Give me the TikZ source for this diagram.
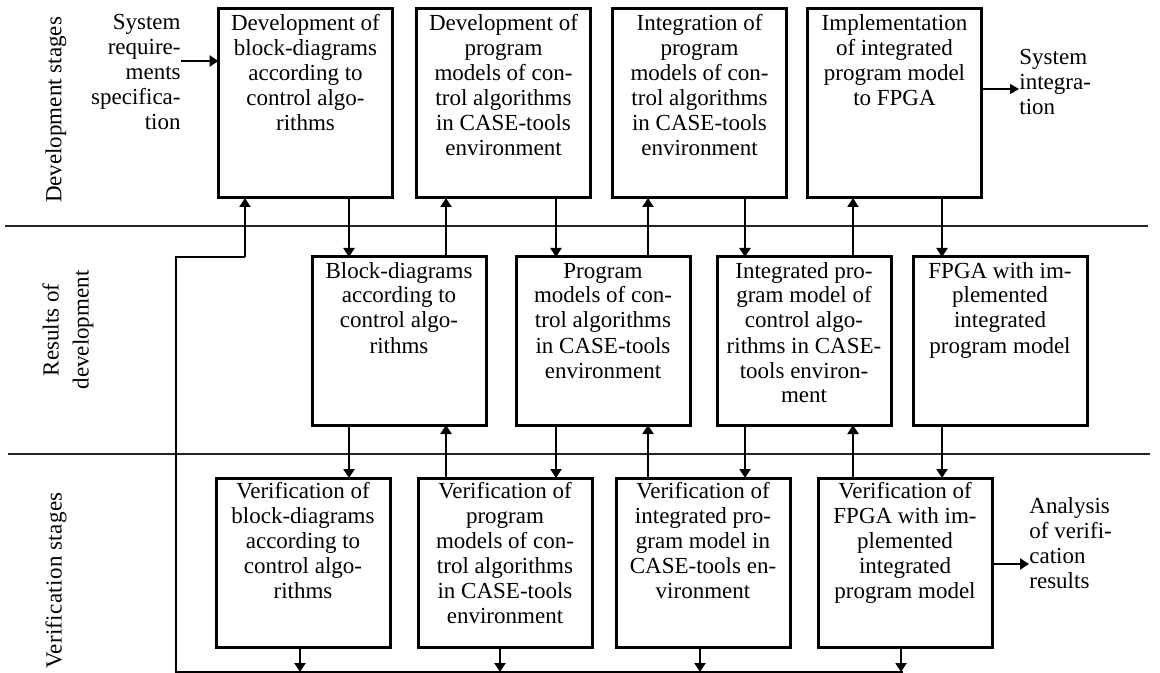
\documentclass[tikz,border=0pt]{standalone}
\usepackage{fontspec}
\setmainfont{Liberation Serif}
\usetikzlibrary{arrows.meta}

% text of a stage box: box height, height of the first line, lines
\newcommand{\stagetext}[3]{\parbox[c][#1][t]{87pt}{\centering\rule{0pt}{#2}\ignorespaces#3\par}}

\begin{document}
\begin{tikzpicture}[x=0.5pt,y=-0.5pt,
  every node/.style={font=\fontsize{11.5pt}{12.5pt}\selectfont},
  stagebox/.style={draw, line width=1.5pt, inner sep=0pt, outer sep=0pt},
  link/.style={line width=1.4pt, -{Triangle[width=5.5pt,length=4.5pt]}},
  thinlink/.style={line width=0.6pt, -{Triangle[width=5pt,length=4.5pt]}},
  loopline/.style={line width=0.7pt},
  band/.style={line width=0.9pt, black!85},
  sidelabel/.style={rotate=90, inner sep=0pt},
  note/.style={inner sep=0pt}]
\useasboundingbox (0,0) rectangle (1160,673);
\clip (0,0) rectangle (1160,673);

% lines between the three bands
\draw[band] (5,226) -- (1148,226);
\draw[band] (8,454) -- (1150,454);

% band titles
\node[sidelabel] (lbdev) at (56,110) {Development stages};
\node[sidelabel, align=center] (lbres) at (68,330) {Results of\\[2.5pt]development};
\node[sidelabel, anchor=east] (lbver) at (56,492) {\addfontfeatures{LetterSpace=1.5}Verification stages};

% development stages
\node[stagebox] (d1) at (305.5,103.5) {\stagetext{94.5pt}{11pt}{Development of\\block-diagrams\\according to\\control algo-\\rithms}};
\node[stagebox] (d2) at (503.5,103.5) {\stagetext{94.5pt}{11pt}{Development of\\program\\models of con-\\trol algorithms\\in CASE-tools\\environment}};
\node[stagebox] (d3) at (699.5,103.5) {\stagetext{94.5pt}{11pt}{Integration of\\program\\models of con-\\trol algorithms\\in CASE-tools\\environment}};
\node[stagebox] (d4) at (894.5,103.5) {\stagetext{94.5pt}{11pt}{Implementation\\of integrated\\program model\\to FPGA}};

% results of development
\node[stagebox] (r1) at (399,341) {\stagetext{84pt}{10.5pt}{Block-diagrams\\according to\\control algo-\\rithms}};
\node[stagebox] (r2) at (603,341) {\stagetext{84pt}{10.5pt}{Program\\models of con-\\trol algorithms\\in CASE-tools\\environment}};
\node[stagebox] (r3) at (804,341) {\stagetext{84pt}{10.5pt}{Integrated pro-\\gram model of\\control algo-\\rithms in CASE-\\tools environ-\\ment}};
\node[stagebox] (r4) at (1000,341) {\stagetext{84pt}{10.5pt}{FPGA with im-\\plemented\\integrated\\program model}};

% verification stages
\node[stagebox] (v1) at (303,562.5) {\stagetext{84.5pt}{10.25pt}{Verification of\\block-diagrams\\according to\\control algo-\\rithms}};
\node[stagebox] (v2) at (505,562.5) {\stagetext{84.5pt}{10.25pt}{Verification of\\program\\models of con-\\trol algorithms\\in CASE-tools\\environment}};
\node[stagebox] (v3) at (703,562.5) {\stagetext{84.5pt}{10.25pt}{Verification of\\integrated pro-\\gram model in\\CASE-tools en-\\vironment}};
\node[stagebox] (v4) at (905,562.5) {\stagetext{84.5pt}{10.25pt}{Verification of\\FPGA with im-\\plemented\\integrated\\program model}};

% inputs and outputs
\node[note, anchor=north east] (sysreq) at (181,9) {\parbox[t]{80pt}{\raggedleft\rule{0pt}{10pt}System\\require-\\ments\\specifica-\\tion}};
\node[note, anchor=north west] (sysint) at (1019,44) {\parbox[t]{60pt}{\raggedright\rule{0pt}{10pt}System\\integra-\\tion}};
\node[note, anchor=north west] (analysis) at (1029,493) {\parbox[t]{60pt}{\raggedright\rule{0pt}{10pt}Analysis\\of verifi-\\cation\\results}};

\coordinate (inY) at (0,61);
\coordinate (outY) at (0,89);
\coordinate (resY) at (0,564);
\draw[link] (sysreq.east |- inY) -- (d1.west |- inY);
\draw[thinlink] (d4.east |- outY) -- (sysint.west |- outY);
\draw[link] (v4.east |- resY) -- (analysis.west |- resY);

% columns of the vertical links
\coordinate (k1) at (349,0);
\coordinate (k2) at (446,0);
\coordinate (k3) at (556,0);
\coordinate (k4) at (648,0);
\coordinate (k5) at (745,0);
\coordinate (k6) at (853,0);
\coordinate (k7) at (942,0);

% development <-> results
\draw[link] (d1.south -| k1) -- (r1.north -| k1);
\draw[link] (r1.north -| k2) -- (d2.south -| k2);
\draw[link] (d2.south -| k3) -- (r2.north -| k3);
\draw[link] (r2.north -| k4) -- (d3.south -| k4);
\draw[link] (d3.south -| k5) -- (r3.north -| k5);
\draw[link] (r3.north -| k6) -- (d4.south -| k6);
\draw[link] (d4.south -| k7) -- (r4.north -| k7);

% results <-> verification
\draw[link] (r1.south -| k1) -- (v1.north -| k1);
\draw[link] (v2.north -| k2) -- (r1.south -| k2);
\draw[link] (r2.south -| k3) -- (v2.north -| k3);
\draw[link] (v3.north -| k4) -- (r2.south -| k4);
\draw[link] (r3.south -| k5) -- (v3.north -| k5);
\draw[link] (v4.north -| k6) -- (r3.south -| k6);
\draw[link] (r4.south -| k7) -- (v4.north -| k7);

% feedback loop back to the first stage
\coordinate (fbR) at (903,672);
\coordinate (fbBL) at (176,672);
\coordinate (fbTL) at (176,257);
\coordinate (fbT) at (245,257);
\coordinate (b1) at (300,0);
\coordinate (b2) at (500,0);
\coordinate (b3) at (700,0);
\coordinate (b4) at (901,0);
\draw[loopline] (fbR) -- (fbBL) -- (fbTL) -- (fbT);
\draw[link] (fbT) -- (d1.south -| fbT);
\draw[link] (v1.south -| b1) -- (fbR -| b1);
\draw[link] (v2.south -| b2) -- (fbR -| b2);
\draw[link] (v3.south -| b3) -- (fbR -| b3);
\draw[link] (v4.south -| b4) -- (fbR -| b4);
\end{tikzpicture}
\end{document}
